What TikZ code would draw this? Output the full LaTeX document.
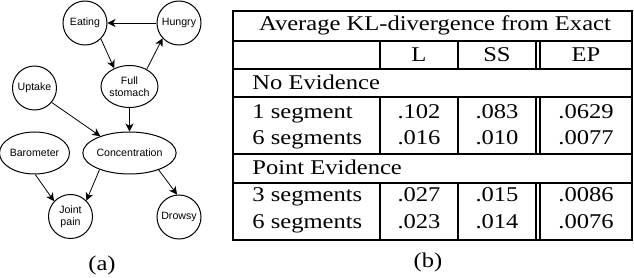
\documentclass[tikz,border=0pt]{standalone}
\usepackage{fontspec}
\setmainfont[FakeStretch=1.17]{Liberation Serif}
\newfontfamily\netfont{Liberation Sans}
\usetikzlibrary{arrows.meta,shapes.geometric}
\begin{document}
\begin{tikzpicture}[x=0.5pt,y=-0.5pt,
  bn/.style={draw,line width=0.5pt,ellipse,inner sep=0pt,font=\netfont\fontsize{5.3}{6}\selectfont,align=center},
  cnode/.style={bn,circle,minimum size=44*0.5pt},
  enode/.style={bn,minimum height=42*0.5pt},
  edge/.style={line width=0.4pt,-{Stealth[length=4pt,width=4pt,inset=1.2pt]}},
  tt/.style={font=\fontsize{10.5}{12.5}\selectfont,inner sep=0pt,anchor=base},
  tl/.style={tt,anchor=base west},
  frame/.style={line width=1pt},
  hl/.style={line width=0.8pt},
  hlb/.style={line width=1.2pt},
  vl/.style={line width=1.1pt}]
\useasboundingbox (0,0) rectangle (634,278);
% ---- network (a)
\node[cnode] (eat) at (85,23) {Eating};
\node[cnode] (hun) at (179,23) {Hungry};
\node[enode,minimum width=57*0.5pt] (fs) at (129.5,86.5) {Full\\stomach};
\node[cnode] (upt) at (34.5,88) {Uptake};
\node[enode,minimum width=77*0.5pt] (con) at (129.5,153) {Concentration};
\node[enode,minimum width=65*0.5pt] (bar) at (34.5,153) {Barometer};
\node[cnode] (jp) at (70.5,216.5) {Joint\\pain};
\node[cnode] (dro) at (179,217) {Drowsy};
\draw[edge] (hun.west) -- (eat.east);
\draw[edge] (eat.-45) -- (fs.130);
\draw[edge] (fs.45) -- (hun.-137);
\draw[edge] (fs.south) -- (con.north);
\draw[edge] (upt.-40) -- (con.150);
\draw[edge] (bar.-88) -- (jp.137);
\draw[edge] (con.209) -- (jp.45);
\draw[edge] (con.-30) -- (dro.95);
\node[tt,anchor=center] (la) at (102,265) {(a)};
% ---- table (b)
\draw[frame] (233,11) rectangle (632,240);
\foreach \y in {41,69} \draw[hl] (233,\y) -- (632,\y);
\foreach \y in {97,154,183} \draw[hlb] (233,\y) -- (632,\y);
\foreach \x in {380,458,536,540} {
  \draw[vl] (\x,41) -- (\x,69);
  \draw[vl] (\x,97) -- (\x,154);
  \draw[vl] (\x,183) -- (\x,240);
}
\node[tt] (title) at (435,31) {Average KL-divergence from Exact};
\node[tt] (hL) at (419,62) {L};
\node[tt] (hSS) at (497,62) {SS};
\node[tt] (hEP) at (586,62) {EP};
\node[tl] (noev) at (252,90) {No Evidence};
\node[tl] (r1) at (252,119) {1 segment};
\node[tt] (r1a) at (419,119) {.102};
\node[tt] (r1b) at (497,119) {.083};
\node[tt] (r1c) at (586,119) {.0629};
\node[tl] (r2) at (252,145) {6 segments};
\node[tt] (r2a) at (419,145) {.016};
\node[tt] (r2b) at (497,145) {.010};
\node[tt] (r2c) at (586,145) {.0077};
\node[tl] (ptev) at (252,175) {Point Evidence};
\node[tl] (r3) at (252,202) {3 segments};
\node[tt] (r3a) at (419,202) {.027};
\node[tt] (r3b) at (497,202) {.015};
\node[tt] (r3c) at (586,202) {.0086};
\node[tl] (r4) at (252,229) {6 segments};
\node[tt] (r4a) at (419,229) {.023};
\node[tt] (r4b) at (497,229) {.014};
\node[tt] (r4c) at (586,229) {.0076};
\node[tt,anchor=center] (lb) at (428,262) {(b)};
\end{tikzpicture}
\end{document}
